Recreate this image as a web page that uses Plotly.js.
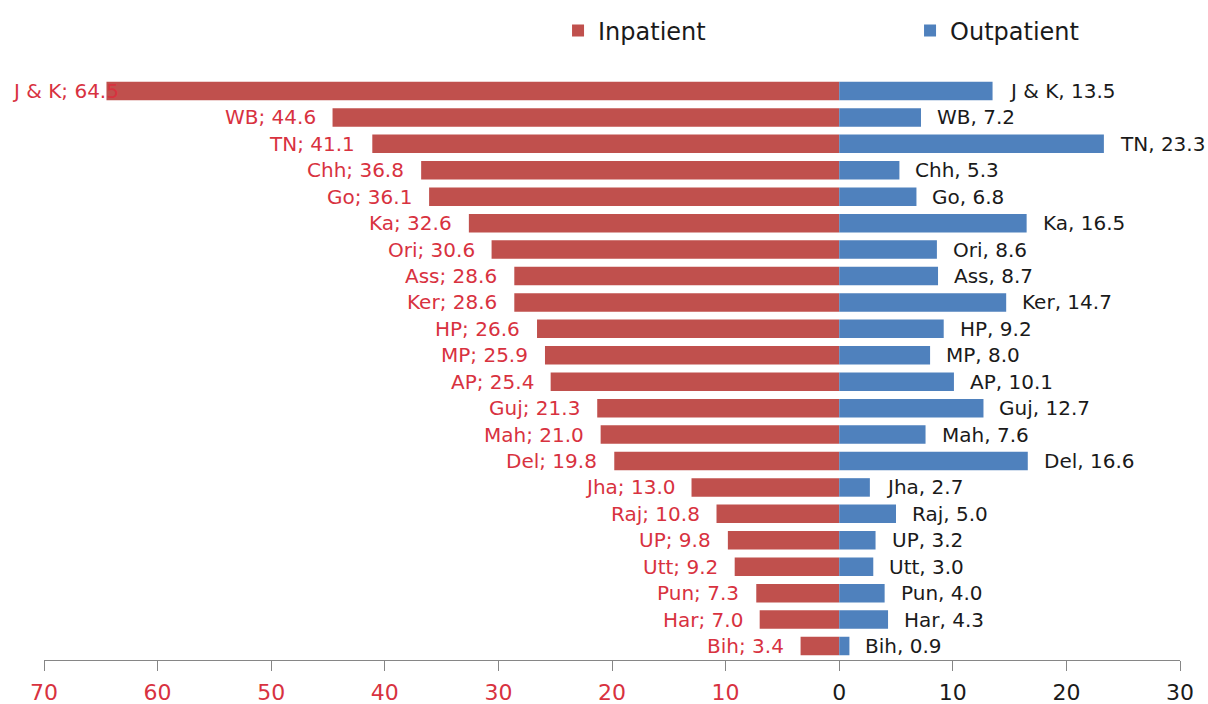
<!DOCTYPE html>
<html><head><meta charset="utf-8">
<script src="https://cdn.plot.ly/plotly-3.0.1.min.js"></script>
<style>html,body{margin:0;padding:0;background:#fff;}#chart{width:1208px;height:704px;}</style>
</head><body><div id="chart"></div>
<script>
const states = ['J & K','WB','TN','Chh','Go','Ka','Ori','Ass','Ker','HP','MP','AP','Guj','Mah','Del','Jha','Raj','UP','Utt','Pun','Har','Bih'];
const inpatient = [64.5,44.6,41.1,36.8,36.1,32.6,30.6,28.6,28.6,26.6,25.9,25.4,21.3,21.0,19.8,13.0,10.8,9.8,9.2,7.3,7.0,3.4];
const outpatient = [13.5,7.2,23.3,5.3,6.8,16.5,8.6,8.7,14.7,9.2,8.0,10.1,12.7,7.6,16.6,2.7,5.0,3.2,3.0,4.0,4.3,0.9];
const tickValues = [-70,-60,-50,-40,-30,-20,-10,0,10,20,30];
const tickLabels = ['70','60','50','40','30','20','10','0','10','20','30'];

const RED = '#C0504D', BLUE = '#4F81BD', REDTXT = '#D8323F';
const FONT = 'DejaVu Sans, Open Sans, sans-serif';

const traces = [
  {type:'bar', orientation:'h', name:'Inpatient', y:states, x:inpatient.map(v=>-v),
   marker:{color:RED}, hoverinfo:'skip'},
  {type:'bar', orientation:'h', name:'Outpatient', y:states, x:outpatient,
   marker:{color:BLUE}, hoverinfo:'skip'}
];

const annotations = [];
states.forEach((s,i)=>{
  const v = inpatient[i];
  const txt = s + '; ' + v.toFixed(1);
  if (v > 60) {
    annotations.push({xref:'paper', yref:'y', x:0, y:s, xanchor:'left', xshift:-34, yanchor:'middle',
      text:txt, showarrow:false, font:{family:FONT, size:20, color:REDTXT}});
  } else {
    annotations.push({xref:'x', yref:'y', x:-v, y:s, xanchor:'right', xshift:-15, yanchor:'middle',
      text:txt, showarrow:false, font:{family:FONT, size:20, color:REDTXT}});
  }
  annotations.push({xref:'x', yref:'y', x:outpatient[i], y:s, xanchor:'left', xshift:14, yanchor:'middle',
    text:s + ', ' + outpatient[i].toFixed(1), showarrow:false, font:{family:FONT, size:20, color:'#1a1a1a'}});
});

const layout = {
  width:1208, height:704,
  margin:{l:44, r:28, t:77, b:44, autoexpand:false},
  paper_bgcolor:'#fff', plot_bgcolor:'#fff',
  font:{family:FONT, size:20, color:'#1a1a1a'},
  barmode:'relative', bargap:0.3,
  showlegend:true,
  legend:{orientation:'h', x:0.4525, y:1.079, xanchor:'left', yanchor:'middle',
          entrywidth:307, entrywidthmode:'pixels', font:{family:FONT, size:24, color:'#1a1a1a'},
          bgcolor:'rgba(0,0,0,0)', traceorder:'normal'},
  xaxis:{range:[-70,30], tickmode:'array', tickvals:tickValues,
         ticktext:tickLabels.map((t,i)=> tickValues[i] < 0 ? '<span style="color:'+REDTXT+'">'+t+'</span>' : t),
         showgrid:false, zeroline:false, showline:true, linecolor:'#868686', linewidth:1,
         ticks:'outside', ticklen:10, tickcolor:'#868686', tickwidth:1, ticklabelstandoff:3,
         tickfont:{family:FONT, size:22, color:'#1a1a1a'}, fixedrange:true, automargin:false},
  yaxis:{type:'category', autorange:'reversed', showticklabels:false, showgrid:false,
         zeroline:false, showline:false, ticks:'', fixedrange:true, automargin:false},
  annotations:annotations
};

Plotly.newPlot('chart', traces, layout, {displayModeBar:false, staticPlot:true});
</script>
</body></html>
